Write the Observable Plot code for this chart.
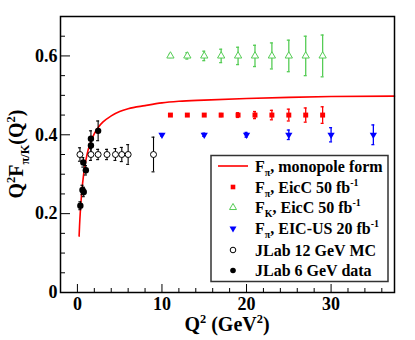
<!DOCTYPE html>
<html><head><meta charset="utf-8">
<script src="https://cdn.jsdelivr.net/npm/d3@7"></script>
<script src="https://cdn.jsdelivr.net/npm/@observablehq/plot@0.6"></script>
<style>body{margin:0;background:#fff} svg{display:block}</style>
</head><body><div id="chart"></div>
<script>
// ---- data ----
const curveQ2  = [0.2, 0.25, 0.35, 0.5, 0.75, 1.0, 1.25, 1.5, 2.0, 2.5, 3.0, 4.0, 5.0, 6.0, 8.0, 10, 12, 15, 20, 25, 30, 37.5];
const curveVal = [0.143, 0.168, 0.207, 0.251, 0.302, 0.335, 0.36, 0.378, 0.403, 0.42, 0.432, 0.448, 0.459, 0.466, 0.474, 0.481, 0.485, 0.488, 0.492, 0.495, 0.497, 0.498];

const eiccPiQ2  = [11, 13, 15, 17, 19, 21, 23, 25, 27, 29];
const eiccPiVal = [0.45, 0.45, 0.45, 0.45, 0.45, 0.45, 0.45, 0.45, 0.45, 0.45];
const eiccPiErr = [0.002, 0.002, 0.003, 0.004, 0.006, 0.009, 0.012, 0.015, 0.018, 0.021];

const eiccKQ2  = [11, 13, 15, 17, 19, 21, 23, 25, 27, 29];
const eiccKVal = [0.6, 0.6, 0.6, 0.6, 0.6, 0.6, 0.6, 0.6, 0.6, 0.6];
const eiccKErr = [0.004, 0.008, 0.012, 0.017, 0.022, 0.027, 0.033, 0.04, 0.05, 0.053];

const eicusQ2  = [10, 15, 20, 25, 30, 35];
const eicusVal = [0.4, 0.4, 0.4, 0.4, 0.4, 0.4];
const eicusErr = [0.003, 0.004, 0.006, 0.012, 0.018, 0.025];

const jlab12Q2  = [0.3, 1.6, 2.45, 3.5, 4.5, 5.25, 6.0, 9.0];
const jlab12Val = [0.35, 0.35, 0.35, 0.35, 0.35, 0.35, 0.35, 0.35];
const jlab12Err = [0.017, 0.015, 0.013, 0.013, 0.015, 0.018, 0.025, 0.044];

const jlab6Q2  = [0.35, 0.6, 0.75, 0.7, 1.0, 1.6, 1.6, 2.45];
const jlab6Val = [0.22, 0.26, 0.255, 0.33, 0.31, 0.373, 0.39, 0.41];
const jlab6Err = [0.01, 0.012, 0.012, 0.012, 0.012, 0.02, 0.02, 0.025];

const xMajor = [0, 10, 20, 30];
const xMinor = [2, 4, 6, 8, 12, 14, 16, 18, 22, 24, 26, 28, 32, 34, 36];
const yMajor = [0, 0.2, 0.4, 0.6];
const yMinor = [0.05, 0.1, 0.15, 0.25, 0.3, 0.35, 0.45, 0.5, 0.55, 0.65];
const xDomain = [-2, 37.5];
const yDomain = [0, 0.7];

const legendLabels = [
  [["F",0],["π",-1],[", monopole form",0]],
  [["F",0],["π",-1],[", EicC 50 fb",0],["-1",1]],
  [["F",0],["K",-1],[", EicC 50 fb",0],["-1",1]],
  [["F",0],["π",-1],[", EIC-US 20 fb",0],["-1",1]],
  [["JLab 12 GeV MC",0]],
  [["JLab 6 GeV data",0]]
];

const RED = "#ff0000", GREEN = "#55cc55", BLUE = "#0000ff";
const FONT = "'Liberation Serif', 'Times New Roman', serif";

const mk = (q, v, e) => q.map((x, i) => ({q: x, v: v[i], e: e ? e[i] : 0}));
const curve = mk(curveQ2, curveVal);
const pi = mk(eiccPiQ2, eiccPiVal, eiccPiErr);
const kk = mk(eiccKQ2, eiccKVal, eiccKErr);
const us = mk(eicusQ2, eicusVal, eicusErr);
const j12 = mk(jlab12Q2, jlab12Val, jlab12Err);
const j6 = mk(jlab6Q2, jlab6Val, jlab6Err);

function errMarks(data, color, sw) {
  return [
    Plot.ruleX(data, {x: "q", y1: d => d.v - d.e, y2: d => d.v + d.e, stroke: color, strokeWidth: sw}),
    Plot.ruleY(data, {y: d => d.v + d.e, x1: "q", x2: "q", insetLeft: -1.5, insetRight: -1.5, stroke: color, strokeWidth: sw}),
    Plot.ruleY(data, {y: d => d.v - d.e, x1: "q", x2: "q", insetLeft: -1.5, insetRight: -1.5, stroke: color, strokeWidth: sw})
  ];
}

const plot = Plot.plot({
  width: 415, height: 340,
  marginLeft: 60, marginRight: 21, marginTop: 16, marginBottom: 48,
  x: {domain: xDomain},
  y: {domain: yDomain},
  style: `font-family: ${FONT}; font-weight: bold; background: #fff; color: #000;`,
  marks: [
    // inward ticks
    Plot.ruleX(xMajor, {x: d => d, y1: yDomain[0], y2: yDomain[0], insetTop: -8, stroke: "black", strokeWidth: 1}),
    Plot.ruleX(xMinor, {x: d => d, y1: yDomain[0], y2: yDomain[0], insetTop: -4, stroke: "black", strokeWidth: 1}),
    Plot.ruleY(yMajor, {y: d => d, x1: xDomain[0], x2: xDomain[0], insetRight: -10, stroke: "black", strokeWidth: 1}),
    Plot.ruleY(yMinor, {y: d => d, x1: xDomain[0], x2: xDomain[0], insetRight: -5, stroke: "black", strokeWidth: 1}),
    Plot.axisX({ticks: xMajor, tickSize: 0, tickPadding: 5, tickFormat: d => String(d), fontSize: 18, fontWeight: "bold", fontFamily: FONT, label: null}),
    Plot.axisY({ticks: yMajor, tickSize: 0, tickPadding: 3, tickFormat: d => d === 0 ? "0" : d.toFixed(1), fontSize: 18, fontWeight: "bold", fontFamily: FONT, label: null}),
    // model curve
    Plot.line(curve, {x: "q", y: "v", stroke: RED, strokeWidth: 1.6, curve: "monotone-x"}),
    // error bars
    ...errMarks(kk, GREEN, 1.3),
    ...errMarks(pi, RED, 1.3),
    ...errMarks(us, BLUE, 1.3),
    ...errMarks(j12, "black", 1.1),
    ...errMarks(j6, "black", 1.1),
    // markers
    Plot.dot(kk, {x: "q", y: "v", symbol: "triangle", r: 2.7, fill: "white", stroke: GREEN, strokeWidth: 1}),
    Plot.dot(pi, {x: "q", y: "v", symbol: "square", r: 2.8, fill: RED}),
    Plot.dot(us, {x: "q", y: "v", symbol: "triangle", rotate: 180, r: 2.7, fill: BLUE}),
    Plot.dot(j12, {x: "q", y: "v", symbol: "circle", r: 3, fill: "white", stroke: "black", strokeWidth: 1}),
    Plot.dot(j6, {x: "q", y: "v", symbol: "circle", r: 3.2, fill: "black"}),
    Plot.frame({stroke: "black", strokeWidth: 1.5})
  ]
});

document.getElementById("chart").appendChild(plot);
const svg = d3.select(plot);

function rich(g, x, y, parts, size, anchor, rotate) {
  const t = g.append("text").attr("x", x).attr("y", y)
    .style("font-size", size + "px").style("font-weight", "bold").style("font-family", FONT)
    .attr("fill", "black").attr("text-anchor", anchor || "start");
  if (rotate) t.attr("transform", `rotate(${rotate},${x},${y})`);
  let cur = 0;
  for (const [s, k] of parts) {
    const target = k === 1 ? -0.42 * size : k === -1 ? 0.28 * size : 0;
    const ts = t.append("tspan").text(s).attr("dy", target - cur);
    if (k) ts.style("font-size", (size * 0.62) + "px");
    cur = target;
  }
  return t;
}

// axis titles
rich(svg, 227, 331, [["Q",0],["2",1],[" (GeV",0],["2",1],[")",0]], 20, "middle");
rich(svg, 23, 154, [["Q",0],["2",1],["F",0],["π/K",-1],["(Q",0],["2",1],[")",0]], 20, "middle", -90);

// legend
const lg = svg.append("g");
lg.append("rect").attr("x", 211).attr("y", 155.5).attr("width", 177).attr("height", 126)
  .attr("fill", "white").attr("stroke", "#333").attr("stroke-width", 1.5);
const rows = [166, 187, 207.5, 228.5, 250, 270.5];
const sx = 233;
lg.append("line").attr("x1", 218).attr("x2", 248).attr("y1", rows[0]).attr("y2", rows[0]).attr("stroke", RED).attr("stroke-width", 1.6);
const sym = (type, r) => d3.symbol(type, Math.PI * r * r)();
lg.append("path").attr("d", sym(d3.symbolSquare, 2.6)).attr("transform", `translate(${sx},${rows[1]})`).attr("fill", RED);
lg.append("path").attr("d", sym(d3.symbolTriangle, 2.6)).attr("transform", `translate(${sx},${rows[2]})`).attr("fill", "white").attr("stroke", GREEN).attr("stroke-width", 1);
lg.append("path").attr("d", sym(d3.symbolTriangle, 2.6)).attr("transform", `translate(${sx},${rows[3]}) rotate(180)`).attr("fill", BLUE);
lg.append("path").attr("d", sym(d3.symbolCircle, 2.8)).attr("transform", `translate(${sx},${rows[4]})`).attr("fill", "white").attr("stroke", "black").attr("stroke-width", 1);
lg.append("path").attr("d", sym(d3.symbolCircle, 2.8)).attr("transform", `translate(${sx},${rows[5]})`).attr("fill", "black");
legendLabels.forEach((parts, i) => rich(lg, 255, rows[i] + 5.5, parts, 16, "start"));
</script>
</body></html>
